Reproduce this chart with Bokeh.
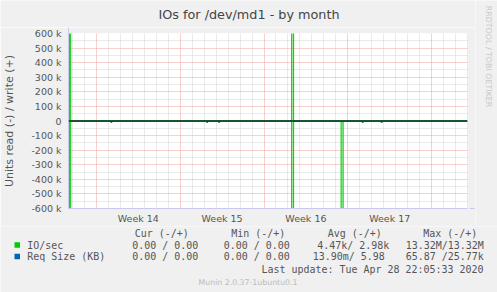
import math
from bokeh.plotting import figure
from bokeh.layouts import column, row
from bokeh.models import FixedTicker, Grid, Span, Arrow, NormalHead, Range1d
from bokeh.core.properties import value
from bokeh.embed import file_html
from bokeh.resources import INLINE

# ---------------- data ----------------
# time axis: days since Monday 2020-03-30 00:00 (start of week 14)
x_start, x_end = -2.333, 31.0
week_ticks = [3.5, 10.5, 17.5, 24.5]
week_labels = ["Week 14", "Week 15", "Week 16", "Week 17"]
week_starts = [0, 7, 14, 21, 28]
day_lines = [d for d in range(-2, 31) if d % 7 != 0]

y_ticks = [-600000, -500000, -400000, -300000, -200000, -100000, 0,
           100000, 200000, 300000, 400000, 500000, 600000]
y_tick_labels = ["-600 k", "-500 k", "-400 k", "-300 k", "-200 k", "-100 k", "0",
                 "100 k", "200 k", "300 k", "400 k", "500 k", "600 k"]
y_minor = [-550000, -450000, -350000, -250000, -150000, -50000,
           50000, 150000, 250000, 350000, 450000, 550000]

# IO/sec (2-hour samples, step form)
io_time = [-2.333, -2.26, -2.26, -2.15, -2.15, 16.31, 16.31, 16.475, 16.475,
           20.44, 20.44, 20.61, 20.61, 31.0]
io_write = [0, 0, 13.32e6, 13.32e6, 0, 0, 13.32e6, 13.32e6, 0,
            0, 0, 0, 0, 0]
io_read = [0, 0, 13.32e6, 13.32e6, 0, 0, 13.32e6, 13.32e6, 0,
           0, 13.32e6, 13.32e6, 0, 0]

# Req Size (KB): small dips visible just under the zero line
req_time = [-2.333, 1.21, 1.21, 1.29, 1.29, 9.21, 9.21, 9.29, 9.29,
            10.21, 10.21, 10.29, 10.29, 22.21, 22.21, 22.29, 22.29,
            23.79, 23.79, 23.87, 23.87, 31.0]
req_read = [0, 0, 9000, 9000, 0, 0, 9000, 9000, 0,
            0, 9000, 9000, 0, 0, 9000, 9000, 0,
            0, 9000, 9000, 0, 0]

series_names = ["IO/sec", "Req Size (KB)"]
legend_header = ["Cur (-/+)", "Min (-/+)", "Avg (-/+)", "Max (-/+)"]
io_stats = ["0.00 / 0.00", "0.00 / 0.00", "4.47k/ 2.98k", "13.32M/13.32M"]
req_stats = ["0.00 / 0.00", "0.00 / 0.00", "13.90m/ 5.98", "65.87 /25.77k"]
last_update = "Last update: Tue Apr 28 22:05:33 2020"
version = "Munin 2.0.37-1ubuntu0.1"
title_text = "IOs for /dev/md1 - by month"
watermark = "RRDTOOL / TOBI OETIKER"

GREEN = "#00cc00"
BLUE = "#0066b3"
BG = "#f0f0f0"
AXC = "#c8c8f0"
TXT = "#555555"

# ---------------- geometry ----------------
FL, FT, FW, FH = 67, 33, 400, 175
W, H = 497, 292
HT = 27           # height of title strip
H1 = 226          # bottom of chart strip
W1 = 475          # width of chart figure (rest: watermark strip)


def no_align(fig):
    if "frame_align" in fig.properties():
        fig.frame_align = False


def pixel_fig(x0, x1, y0, y1):
    """A figure whose data coordinates equal page pixels (y downwards)."""
    f = figure(width=x1 - x0, height=y1 - y0, x_range=Range1d(x0, x1),
               y_range=Range1d(y1, y0), output_backend="svg", toolbar_location=None,
               min_border=0, x_axis_location=None, y_axis_location=None)
    f.background_fill_color = BG
    f.border_fill_color = BG
    f.outline_line_color = None
    f.grid.visible = False
    no_align(f)
    return f


# ---------------- title strip ----------------
top = pixel_fig(0, W1, 0, HT)
top.text(x=[248.5], y=[14], text=[title_text], text_font=value("DejaVu Sans"),
         text_font_size=value("12.8px"), text_color="#444444",
         text_align="center", text_baseline="middle")

# ---------------- main chart ----------------
p = figure(width=W1, height=H1 - HT, x_range=(x_start, x_end), y_range=(-600000, 600000),
           output_backend="svg", toolbar_location=None,
           min_border_left=FL, min_border_right=W1 - FL - FW,
           min_border_top=FT - HT, min_border_bottom=H1 - FT - FH)
no_align(p)
p.background_fill_color = "white"
p.border_fill_color = BG
p.outline_line_color = None
p.xgrid.visible = False
p.ygrid.visible = False
p.title.visible = False

# axes
p.xaxis.ticker = FixedTicker(ticks=week_ticks)
p.xaxis.major_label_overrides = {t: l for t, l in zip(week_ticks, week_labels)}
p.yaxis.ticker = FixedTicker(ticks=y_ticks)
p.yaxis.major_label_overrides = {t: l for t, l in zip(y_ticks, y_tick_labels)}
for ax in (p.xaxis, p.yaxis):
    ax.major_tick_line_color = None
    ax.minor_tick_line_color = None
    ax.major_tick_out = 0
    ax.major_tick_in = 0
    ax.axis_line_color = AXC
    ax.major_label_text_font = "DejaVu Sans"
    ax.major_label_text_font_size = "9.5px"
    ax.major_label_text_color = TXT
p.xaxis.major_label_standoff = 4
p.yaxis.major_label_standoff = 7
p.yaxis.axis_label = "Units read (-) / write (+)"
p.yaxis.axis_label_text_font = "DejaVu Sans"
p.yaxis.axis_label_text_font_size = "11px"
p.yaxis.axis_label_text_font_style = "normal"
p.yaxis.axis_label_text_color = TXT
p.yaxis.axis_label_standoff = 12


def add_grid(dim, ticks, color):
    g = Grid(dimension=dim, ticker=FixedTicker(ticks=ticks))
    g.grid_line_color = color
    g.grid_line_dash = "1 1"
    g.grid_line_width = 1
    p.add_layout(g)


add_grid(0, day_lines, "#d4d4d4")
add_grid(1, y_minor, "#d4d4d4")
add_grid(0, week_starts, "#f2a0a0")
add_grid(1, y_ticks, "#f2a0a0")
p.add_layout(Span(location=x_end, dimension="height", line_color="#f2a0a0",
                  line_dash="1 1", line_width=1))

# series
p.varea(x=io_time, y1=0, y2=io_write, fill_color=GREEN, fill_alpha=0.3)
p.varea(x=io_time, y1=0, y2=[-v for v in io_read], fill_color=GREEN, fill_alpha=0.3)
p.line(io_time, io_write, line_color=GREEN, line_width=1)
p.line(io_time, [-v for v in io_read], line_color=GREEN, line_width=1)
p.line(req_time, [-v for v in req_read], line_color="#1a7f8a", line_width=1.2)

# zero line
p.add_layout(Span(location=0, dimension="width", line_color="black", line_width=1))

# axis arrows
p.add_layout(Arrow(x_start=0, y_start=FH, x_end=0, y_end=FH + 6,
                   start_units="screen", end_units="screen",
                   line_color=AXC, line_width=1,
                   end=NormalHead(size=6, fill_color=AXC, line_color=AXC)))
p.add_layout(Arrow(x_start=FW, y_start=0, x_end=FW + 7, y_end=0,
                   start_units="screen", end_units="screen",
                   line_color=AXC, line_width=1,
                   end=NormalHead(size=6, fill_color=AXC, line_color=AXC)))

# ---------------- watermark strip (right) ----------------
side = pixel_fig(W1, W, 0, H1)
side.text(x=[488], y=[56], text=[watermark], text_font=value("DejaVu Sans"),
          text_font_size=value("7.9px"), text_color="#c8c8c8", angle=-math.pi / 2,
          text_align="center", text_baseline="middle")

# ---------------- legend strip (bottom) ----------------
leg = pixel_fig(0, W, H1, H)
MONO = value("DejaVu Sans Mono")
FS = value("9.97px")
col_x = [134.3, 230.7, 327.3, 422.7]
leg.text(x=col_x, y=[233.3] * 4, text=legend_header, text_font=MONO,
         text_font_size=FS, text_color=TXT, text_baseline="middle")
leg.text(x=[26.7, 26.7], y=[244.5, 256], text=series_names, text_font=MONO,
         text_font_size=FS, text_color=TXT, text_baseline="middle")
leg.text(x=[131.7, 223.3, 316.7, 405.3], y=[244.5] * 4, text=io_stats, text_font=MONO,
         text_font_size=FS, text_color=TXT, text_baseline="middle")
leg.text(x=[131.7, 223.3, 312.3, 405.3], y=[256] * 4, text=req_stats, text_font=MONO,
         text_font_size=FS, text_color=TXT, text_baseline="middle")
leg.text(x=[483], y=[269], text=[last_update], text_font=MONO, text_font_size=FS,
         text_color=TXT, text_baseline="middle", text_align="right")
leg.text(x=[247.5], y=[282], text=[version], text_font=value("DejaVu Sans"),
         text_font_size=value("7.8px"), text_color="#bbbbbb",
         text_baseline="middle", text_align="center")
leg.quad(left=[14, 14], right=[19.5, 19.5], top=[241.8, 253.3], bottom=[247.3, 258.8],
         fill_color=[GREEN, BLUE], line_color=None)

layout = column(row(column(top, p, spacing=0), side, spacing=0), leg, spacing=0)
open("out.html", "w").write(file_html(layout, INLINE))
